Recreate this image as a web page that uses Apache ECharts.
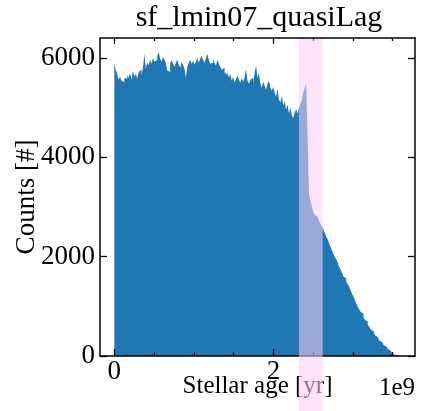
<!DOCTYPE html>
<html>
<head>
<meta charset="utf-8">
<script src="https://cdn.jsdelivr.net/npm/echarts@6/dist/echarts.min.js"></script>
<style>
html,body{margin:0;padding:0;background:#fff;}
#c{width:422px;height:411px;}
</style>
</head>
<body>
<div id="c"></div>
<script>
// ---- data ----
const titleText = 'sf_lmin07_quasiLag';
const xLabel = 'Stellar age [yr]';
const yLabel = 'Counts [#]';
const xScaleText = '1e9';
const binStart = 0;          // in 1e9 yr
const binWidth = 0.018;      // in 1e9 yr
const counts = [
  5900,5760,5680,5560,5620,5540,5510,5600,5580,5650,
  5600,5700,5560,5740,5620,5680,5580,5720,5760,5650,
  5800,6080,5780,5900,5850,5960,5880,6000,5920,5960,
  6040,6120,5980,5920,6020,5960,5900,5740,5720,5880,
  5960,5880,5820,5900,5960,5860,5800,5920,5860,5780,
  5600,5820,5900,5960,5880,5940,5860,5920,6000,5900,
  5980,6040,5950,5900,6000,6080,5960,5880,5900,5960,
  5900,5840,5960,5880,5820,5760,5800,5700,5660,5720,
  5600,5680,5540,5620,5500,5580,5640,5560,5500,5600,
  5520,5600,5780,5540,5480,5560,5600,5480,5700,5840,
  5600,5700,5480,5400,5520,5440,5360,5480,5540,5400,
  5340,5420,5300,5220,5380,5160,5100,5240,5040,5120,
  4960,5060,4880,5000,4840,4790,4900,4960,4880,5000,
  5080,5150,5300,5400,5470,4400,3250,3120,3020,2900,
  2840,2800,2760,2720,2660,2600,2550,2480,2400,2350,
  2270,2200,2120,2060,1990,1940,1880,1800,1740,1680,
  1600,1560,1500,1450,1400,1320,1260,1200,1120,1060,
  990,940,890,850,790,730,690,640,590,540,
  500,460,420,380,350,310,280,250,220,190,
  170,140,110,80,50,25,12,5,2,1
];
const bandRange = [2.32, 2.62];   // highlighted age range, 1e9 yr
const xRange = [-0.18, 3.78];
const yRange = [0, 6400];
const xMajorTicks = [0, 2];
const xMinorTicks = [0.5, 1, 1.5, 2.5, 3, 3.5];
const yMajorTicks = [0, 2000, 4000, 6000];

// ---- chart ----
const FONT = 'Liberation Serif';
// step outline of the histogram: each bin's left edge with its count, closed at the last right edge
const histData = counts.map((c, i) => [binStart + i * binWidth, c]);
histData.push([binStart + counts.length * binWidth, counts[counts.length - 1]]);
histData.push([binStart + counts.length * binWidth, 0]);

const chart = echarts.init(document.getElementById('c'), null, {renderer: 'canvas'});
const plain = v => String(v);
const lineStyle = {color: '#000', width: 1.5};
function xAxisDef(pos, ticks, len, showLine, showLabel, extra) {
  return Object.assign({
    type: 'value', position: pos, min: xRange[0], max: xRange[1], z: 10,
    axisLine: {show: showLine, onZero: false, lineStyle: lineStyle},
    axisTick: {show: true, inside: true, length: len, customValues: ticks, lineStyle: {color: '#000', width: 1.3}},
    axisLabel: {show: showLabel, customValues: ticks, formatter: plain, fontFamily: FONT, fontSize: 27, color: '#000', margin: 2},
    splitLine: {show: false}
  }, extra || {});
}
function yAxisDef(pos, showLabel, extra) {
  return Object.assign({
    type: 'value', position: pos, min: yRange[0], max: yRange[1], z: 10,
    axisLine: {show: true, onZero: false, lineStyle: lineStyle},
    axisTick: {show: true, inside: true, length: 7, customValues: yMajorTicks, lineStyle: {color: '#000', width: 1.3}},
    axisLabel: {show: showLabel, customValues: yMajorTicks, formatter: plain, fontFamily: FONT, fontSize: 27, color: '#000', margin: 5},
    splitLine: {show: false}
  }, extra || {});
}

chart.setOption({
  animation: false,
  backgroundColor: '#fff',
  grid: {left: 100, right: 7, top: 38, bottom: 55, containLabel: false, outerBoundsMode: 'none'},
  xAxis: [
    xAxisDef('bottom', xMajorTicks, 7, true, true, {
      name: xLabel, nameLocation: 'middle', nameGap: 18, nameMoveOverlap: false,
      nameTextStyle: {fontFamily: FONT, fontSize: 25, color: '#000', verticalAlign: 'top'}
    }),
    xAxisDef('bottom', xMinorTicks, 4, false, false),
    xAxisDef('top', xMajorTicks, 6, true, false),
    xAxisDef('top', xMinorTicks, 3, false, false)
  ],
  yAxis: [
    yAxisDef('left', true, {
      name: yLabel, nameLocation: 'middle', nameGap: 60, nameMoveOverlap: false,
      nameTextStyle: {fontFamily: FONT, fontSize: 27, color: '#000'}
    }),
    yAxisDef('right', false)
  ],
  series: [{
    type: 'line',
    xAxisIndex: 0, yAxisIndex: 0,
    data: histData,
    step: 'end',
    showSymbol: false,
    symbol: 'none',
    lineStyle: {width: 0},
    areaStyle: {color: '#1f77b4', opacity: 1, origin: 'start'},
    silent: true
  }],
  graphic: [
    {type: 'text', id: 'title', x: 259, y: 18, z: 20,
      style: {text: titleText, font: '30px "Liberation Serif"', fill: '#000', align: 'center', verticalAlign: 'middle'}},
    {type: 'text', id: 'scale', x: 415, y: 388, z: 20,
      style: {text: xScaleText, font: '25px "Liberation Serif"', fill: '#000', align: 'right', verticalAlign: 'middle'}}
  ]
});

// highlighted band: from the plot top down to the figure bottom, drawn over everything
const bx0 = chart.convertToPixel({xAxisIndex: 0}, bandRange[0]);
const bx1 = chart.convertToPixel({xAxisIndex: 0}, bandRange[1]);
const byTop = chart.convertToPixel({yAxisIndex: 0}, yRange[1]);
chart.setOption({
  graphic: [
    {type: 'rect', id: 'band', z: 100,
      shape: {x: bx0, y: byTop + 1, width: bx1 - bx0, height: 411 - byTop},
      style: {fill: 'rgba(250,206,243,0.56)'}}
  ]
});
</script>
</body>
</html>
